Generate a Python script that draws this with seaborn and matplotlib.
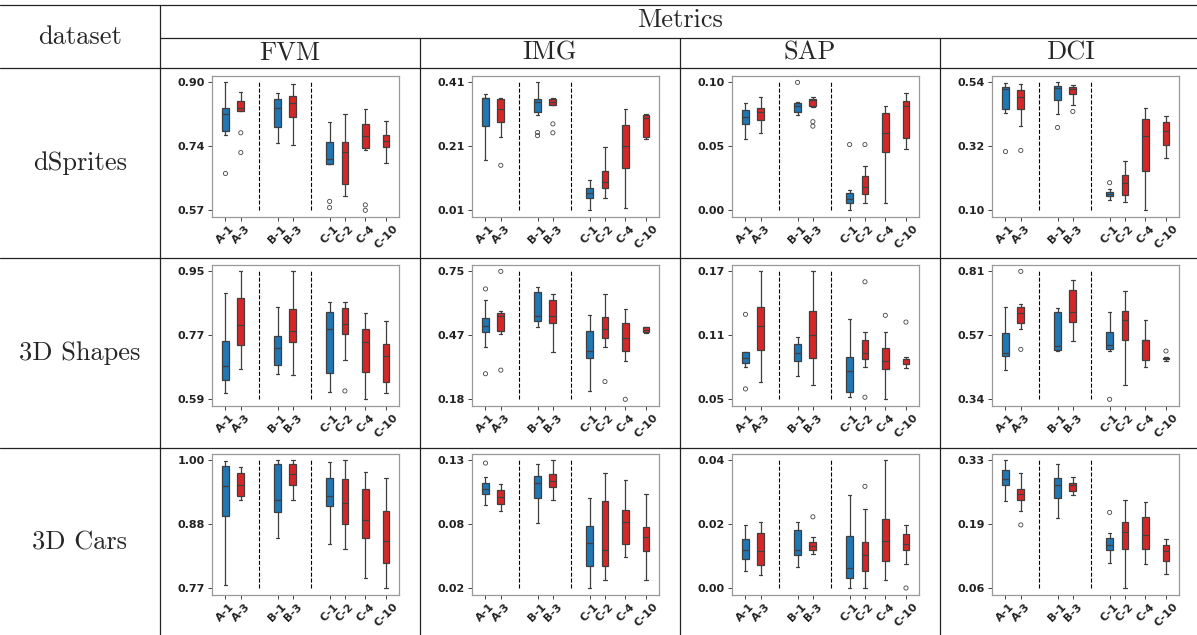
import numpy as np
import pandas as pd
import matplotlib
matplotlib.use("Agg")
import matplotlib.pyplot as plt
import seaborn as sns

# box order, x positions and colour group
LABELS = ["A-1", "A-3", "B-1", "B-3", "C-1", "C-2", "C-4", "C-10"]
POSITIONS = [0.0, 1.0, 3.4, 4.4, 6.8, 7.8, 9.13, 10.48]
GROUPS = ["blue", "red", "blue", "red", "blue", "red", "red", "red"]
SEPARATORS = [2.2, 5.59]

DATASETS = ["dSprites", "3D Shapes", "3D Cars"]
METRICS = ["FVM", "IMG", "SAP", "DCI"]

# each box: [whisker low, q1, median, q3, whisker high]
DSPRITES_FVM = [[0.765, 0.775, 0.820, 0.834, 0.901], [0.826, 0.826, 0.834, 0.854, 0.877],
                [0.745, 0.785, 0.834, 0.857, 0.873], [0.739, 0.812, 0.847, 0.866, 0.896],
                [0.690, 0.690, 0.703, 0.748, 0.799], [0.609, 0.639, 0.721, 0.747, 0.820],
                [0.726, 0.732, 0.762, 0.793, 0.833], [0.693, 0.735, 0.751, 0.765, 0.802]]
DSPRITES_FVM_OUT = [[0.666], [0.771, 0.720], [], [], [0.594, 0.578], [], [0.585, 0.571], []]

DSPRITES_IMG = [[0.168, 0.275, 0.362, 0.363, 0.376], [0.241, 0.289, 0.328, 0.361, 0.362],
                [0.311, 0.319, 0.352, 0.359, 0.412], [0.341, 0.341, 0.351, 0.359, 0.364],
                [0.011, 0.050, 0.066, 0.080, 0.105], [0.049, 0.080, 0.100, 0.133, 0.208],
                [0.018, 0.143, 0.212, 0.278, 0.329], [0.235, 0.242, 0.299, 0.310, 0.313]]
DSPRITES_IMG_OUT = [[], [0.152], [0.255, 0.245], [0.282, 0.254], [], [], [], []]

DSPRITES_SAP = [[0.056, 0.068, 0.073, 0.079, 0.084], [0.061, 0.071, 0.077, 0.080, 0.0885],
                [0.075, 0.077, 0.082, 0.0845, 0.085], [0.081, 0.082, 0.0866, 0.0874, 0.0885],
                [0.0003, 0.006, 0.0092, 0.014, 0.0163], [0.0063, 0.013, 0.0184, 0.0268, 0.035],
                [0.0058, 0.046, 0.0604, 0.0767, 0.0816], [0.048, 0.0567, 0.0822, 0.0858, 0.0924]]
DSPRITES_SAP_OUT = [[], [], [0.1003], [0.0696, 0.0661], [0.0517], [0.0517], [], []]

DSPRITES_DCI = [[0.436, 0.450, 0.517, 0.526, 0.540], [0.391, 0.450, 0.4915, 0.516, 0.537],
                [0.4315, 0.480, 0.5215, 0.5285, 0.541], [0.464, 0.501, 0.519, 0.524, 0.532],
                [0.136, 0.150, 0.157, 0.1635, 0.175], [0.128, 0.155, 0.1935, 0.221, 0.269],
                [0.101, 0.235, 0.3575, 0.415, 0.453], [0.280, 0.325, 0.374, 0.404, 0.426]]
DSPRITES_DCI_OUT = [[0.303], [0.307], [0.386], [0.441], [0.196], [], [], []]

SHAPES_FVM = [[0.608, 0.646, 0.6845, 0.756, 0.890], [0.676, 0.744, 0.801, 0.875, 0.951],
              [0.662, 0.688, 0.7355, 0.770, 0.852], [0.659, 0.752, 0.784, 0.846, 0.951],
              [0.611, 0.666, 0.789, 0.838, 0.865], [0.7025, 0.775, 0.804, 0.849, 0.865],
              [0.591, 0.669, 0.7525, 0.789, 0.835], [0.608, 0.641, 0.713, 0.747, 0.812]]
SHAPES_FVM_OUT = [[], [], [], [], [], [0.6146], [], []]

SHAPES_IMG = [[0.414, 0.481, 0.507, 0.543, 0.625], [0.473, 0.487, 0.5535, 0.565, 0.573],
              [0.504, 0.528, 0.552, 0.658, 0.680], [0.393, 0.522, 0.5535, 0.625, 0.650],
              [0.220, 0.3645, 0.397, 0.485, 0.5565], [0.414, 0.452, 0.494, 0.549, 0.649],
              [0.3526, 0.396, 0.454, 0.522, 0.582], [0.478, 0.479, 0.491, 0.501, 0.504]]
SHAPES_IMG_OUT = [[0.673, 0.295], [0.751, 0.311], [], [], [], [0.260], [0.181], []]

SHAPES_SAP = [[0.0804, 0.0842, 0.0892, 0.0948, 0.0951], [0.0666, 0.0967, 0.1186, 0.1371, 0.170],
              [0.0726, 0.086, 0.0935, 0.102, 0.1083], [0.0635, 0.0888, 0.1108, 0.133, 0.170],
              [0.0525, 0.0578, 0.0769, 0.0898, 0.1252], [0.081, 0.0879, 0.0939, 0.1061, 0.113],
              [0.0506, 0.0788, 0.0863, 0.0982, 0.1133], [0.0795, 0.0835, 0.0879, 0.0885, 0.0901]]
SHAPES_SAP_OUT = [[0.1299, 0.0603], [], [], [], [], [0.1603, 0.0525], [0.129], [0.1227]]

SHAPES_DCI = [[0.449, 0.497, 0.5106, 0.583, 0.679], [0.599, 0.621, 0.658, 0.679, 0.691],
              [0.5155, 0.519, 0.535, 0.659, 0.676], [0.555, 0.6235, 0.660, 0.741, 0.779],
              [0.517, 0.525, 0.539, 0.585, 0.6615], [0.393, 0.556, 0.630, 0.665, 0.739],
              [0.460, 0.485, 0.556, 0.557, 0.632], [0.480, 0.486, 0.4897, 0.493, 0.4946]]
SHAPES_DCI_OUT = [[], [0.8095, 0.523], [], [], [0.3395], [], [], [0.517]]

CARS_FVM = [[0.776, 0.900, 0.9535, 0.990, 0.999], [0.929, 0.936, 0.955, 0.978, 0.9885],
            [0.861, 0.907, 0.928, 0.994, 1.000], [0.928, 0.9565, 0.976, 0.994, 1.000],
            [0.8485, 0.9185, 0.935, 0.968, 0.997], [0.840, 0.886, 0.923, 0.967, 1.000],
            [0.7875, 0.860, 0.893, 0.949, 0.979], [0.7695, 0.815, 0.8545, 0.908, 0.968]]
CARS_FVM_OUT = [[], [], [], [], [], [], [], []]

CARS_IMG = [[0.0916, 0.1011, 0.1052, 0.1109, 0.1158], [0.0864, 0.0928, 0.0988, 0.1043, 0.1101],
            [0.0763, 0.0977, 0.1107, 0.1167, 0.1271], [0.0959, 0.1072, 0.1124, 0.1182, 0.130],
            [0.0203, 0.0391, 0.059, 0.074, 0.0974], [0.0272, 0.0391, 0.0529, 0.0951, 0.1193],
            [0.0474, 0.0587, 0.0772, 0.0878, 0.1133], [0.0272, 0.0523, 0.0647, 0.0725, 0.1011]]
CARS_IMG_OUT = [[0.1277], [], [], [], [], [], [], []]

CARS_SAP = [[0.0056, 0.0091, 0.0119, 0.0155, 0.0198], [0.0042, 0.0075, 0.0117, 0.0172, 0.0207],
            [0.0067, 0.0104, 0.0122, 0.0183, 0.0207], [0.0109, 0.0122, 0.0134, 0.0144, 0.0161],
            [0.0002, 0.0033, 0.0064, 0.0163, 0.0293], [0.0001, 0.0054, 0.0105, 0.0145, 0.0247],
            [0.0026, 0.0087, 0.0148, 0.0218, 0.0400], [0.0077, 0.0119, 0.014, 0.0171, 0.0197]]
CARS_SAP_OUT = [[], [], [], [0.0224], [], [0.0319], [], [0.0002]]

CARS_DCI = [[0.2447, 0.2767, 0.2902, 0.3087, 0.3295], [0.2234, 0.2454, 0.2597, 0.2689, 0.303],
            [0.2078, 0.2497, 0.2774, 0.2923, 0.3222], [0.2568, 0.2653, 0.2774, 0.2824, 0.2952],
            [0.1126, 0.141, 0.1502, 0.1652, 0.1758], [0.0600, 0.1424, 0.1787, 0.2007, 0.2462],
            [0.1112, 0.1431, 0.1716, 0.2106, 0.2419], [0.0906, 0.1183, 0.1382, 0.1502, 0.163]]
CARS_DCI_OUT = [[], [0.1936], [], [], [0.2199], [], [], []]

PANELS = [
    [(DSPRITES_FVM, DSPRITES_FVM_OUT), (DSPRITES_IMG, DSPRITES_IMG_OUT),
     (DSPRITES_SAP, DSPRITES_SAP_OUT), (DSPRITES_DCI, DSPRITES_DCI_OUT)],
    [(SHAPES_FVM, SHAPES_FVM_OUT), (SHAPES_IMG, SHAPES_IMG_OUT),
     (SHAPES_SAP, SHAPES_SAP_OUT), (SHAPES_DCI, SHAPES_DCI_OUT)],
    [(CARS_FVM, CARS_FVM_OUT), (CARS_IMG, CARS_IMG_OUT),
     (CARS_SAP, CARS_SAP_OUT), (CARS_DCI, CARS_DCI_OUT)],
]

PALETTE = {"blue": "#1f77b4", "red": "#d62728"}

sns.set_style("ticks")
plt.rcParams["font.family"] = ["DejaVu Sans"]

W, H = 1197, 635
fig = plt.figure(figsize=(W / 100, H / 100), dpi=100)

# table frame drawn in pixel coordinates
bg = fig.add_axes([0, 0, 1, 1])
bg.set_xlim(0, W)
bg.set_ylim(H, 0)
bg.axis("off")
lc = "#222222"
for y, x0 in [(5, 0), (38, 160), (68, 0), (258, 0), (448, 0)]:
    bg.plot([x0, W], [y, y], color=lc, lw=0.9)
bg.plot([160, 160], [5, H], color=lc, lw=0.9)
for x in [420, 680, 940]:
    bg.plot([x, x], [38, H], color=lc, lw=0.9)

serif = "cmr10"
bg.text(80, 37, "dataset", ha="center", va="center", fontsize=19, fontfamily=serif)
bg.text(680, 20, "Metrics", ha="center", va="center", fontsize=19, fontfamily=serif)
col_left = [160, 420, 680, 940]
for c, m in enumerate(METRICS):
    bg.text(col_left[c] + 130, 53, m, ha="center", va="center", fontsize=19, fontfamily=serif)
row_top = [68, 258, 448]
for r, d in enumerate(DATASETS):
    bg.text(80, row_top[r] + 95, d, ha="center", va="center", fontsize=19, fontfamily=serif)

ax_top = [76, 265, 454]
ax_w, ax_h = 187.6, 140.7

for r in range(3):
    for c in range(4):
        boxes, outs = PANELS[r][c]
        left = col_left[c] + 51.7
        ax = fig.add_axes([left / W, 1 - (ax_top[r] + ax_h) / H, ax_w / W, ax_h / H])

        rows = []
        for pos, grp, vals in zip(POSITIONS, GROUPS, boxes):
            for v in vals:
                rows.append((pos, v, grp))
        df = pd.DataFrame(rows, columns=["pos", "value", "group"])

        sns.boxplot(data=df, x="pos", y="value", hue="group", palette=PALETTE,
                    native_scale=True, dodge=False, width=0.44, whis=(0, 100),
                    saturation=1, linewidth=0.9, fliersize=0, legend=False, ax=ax)

        fx, fy = [], []
        for pos, o in zip(POSITIONS, outs):
            fx += [pos] * len(o)
            fy += o
        if fx:
            ax.scatter(fx, fy, s=9, facecolors="none", edgecolors="#444444",
                       linewidths=0.6, zorder=3)

        allv = df["value"].tolist() + fy
        lo, hi = min(allv), max(allv)
        ax.vlines(SEPARATORS, lo, hi, colors="black", linestyles="--", linewidth=0.8)
        pad = 0.05 * (hi - lo)
        ax.set_ylim(lo - pad, hi + pad)
        ticks = [lo, (lo + hi) / 2, hi]
        ax.set_yticks(ticks)
        ax.set_yticklabels([f"{t:.2f}" for t in ticks], fontsize=8, fontweight="bold")
        ax.set_xticks(POSITIONS)
        ax.set_xticklabels(LABELS, rotation=45, fontsize=8, fontweight="bold")
        ax.set_xlim(-0.9, 11.35)
        ax.set_xlabel("")
        ax.set_ylabel("")
        ax.tick_params(length=3, width=0.6, pad=2, colors="#222222")
        for s in ax.spines.values():
            s.set_color("#999999")
            s.set_linewidth(0.9)

fig.savefig("out.png", dpi=100)
